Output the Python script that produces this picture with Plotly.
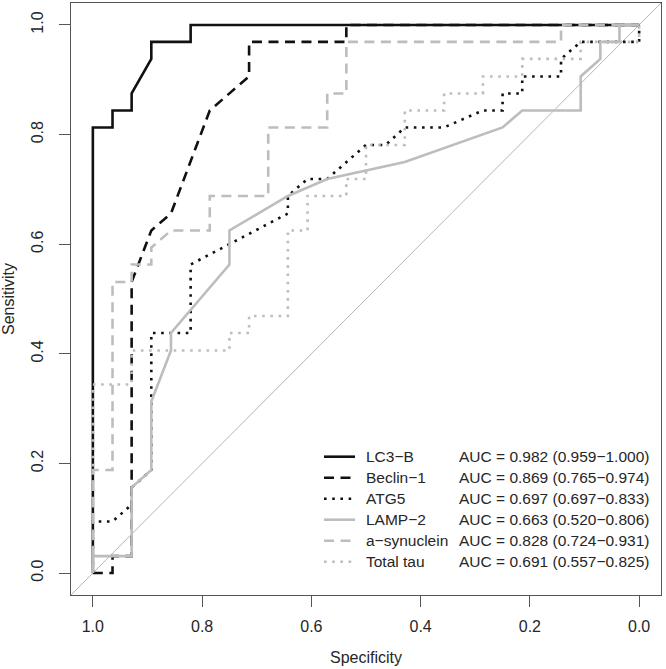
import plotly.graph_objects as go

# ---------------- data ----------------
SERIES_NAMES = ["LC3\u2212B", "Beclin\u22121", "ATG5", "LAMP\u22122", "a\u2212synuclein", "Total tau"]
AUC_LABELS = [
    "AUC = 0.982 (0.959\u22121.000)",
    "AUC = 0.869 (0.765\u22120.974)",
    "AUC = 0.697 (0.697\u22120.833)",
    "AUC = 0.663 (0.520\u22120.806)",
    "AUC = 0.828 (0.724\u22120.931)",
    "AUC = 0.691 (0.557\u22120.825)",
]

lc3b_spec = [1.000, 1.000, 0.964, 0.964, 0.929, 0.929, 0.893, 0.893, 0.821, 0.821, 0.000]
lc3b_sens = [0.000, 0.813, 0.813, 0.844, 0.844, 0.875, 0.938, 0.969, 0.969, 1.000, 1.000]

beclin_spec = [1.000, 0.964, 0.964, 0.929, 0.929, 0.893, 0.857, 0.786, 0.714, 0.714, 0.536, 0.536, 0.000]
beclin_sens = [0.000, 0.000, 0.031, 0.031, 0.531, 0.625, 0.656, 0.844, 0.906, 0.969, 0.969, 1.000, 1.000]

atg5_spec = [1.000, 1.000, 0.964, 0.929, 0.929, 0.893, 0.893, 0.821, 0.821, 0.643, 0.643, 0.607, 0.571,
             0.500, 0.464, 0.429, 0.357, 0.286, 0.250, 0.250, 0.214, 0.214, 0.143, 0.143, 0.107, 0.000, 0.000]
atg5_sens = [0.000, 0.094, 0.094, 0.125, 0.156, 0.188, 0.438, 0.438, 0.563, 0.656, 0.688, 0.719, 0.719,
             0.781, 0.781, 0.813, 0.813, 0.844, 0.844, 0.875, 0.875, 0.906, 0.906, 0.938, 0.969, 0.969, 1.000]

lamp2_spec = [1.000, 1.000, 0.929, 0.929, 0.893, 0.893, 0.857, 0.857, 0.750, 0.750, 0.643, 0.571, 0.429,
              0.250, 0.214, 0.107, 0.107, 0.071, 0.071, 0.036, 0.036, 0.000]
lamp2_sens = [0.000, 0.031, 0.031, 0.156, 0.188, 0.313, 0.406, 0.438, 0.563, 0.625, 0.688, 0.719, 0.750,
              0.813, 0.844, 0.844, 0.906, 0.938, 0.969, 0.969, 1.000, 1.000]

asyn_spec = [1.000, 1.000, 0.964, 0.964, 0.929, 0.929, 0.893, 0.893, 0.857, 0.786, 0.786, 0.679, 0.679,
             0.571, 0.571, 0.536, 0.536, 0.143, 0.143, 0.000]
asyn_sens = [0.000, 0.188, 0.188, 0.531, 0.531, 0.563, 0.563, 0.594, 0.625, 0.625, 0.688, 0.688, 0.813,
             0.813, 0.875, 0.875, 0.969, 0.969, 1.000, 1.000]

tau_spec = [1.000, 1.000, 0.929, 0.929, 0.750, 0.750, 0.714, 0.714, 0.643, 0.643, 0.607, 0.607, 0.536, 0.536,
            0.500, 0.500, 0.429, 0.429, 0.357, 0.357, 0.286, 0.286, 0.214, 0.214, 0.107, 0.107, 0.000, 0.000]
tau_sens = [0.000, 0.344, 0.344, 0.406, 0.406, 0.438, 0.438, 0.469, 0.469, 0.625, 0.625, 0.688, 0.688, 0.719,
            0.719, 0.781, 0.781, 0.844, 0.844, 0.875, 0.875, 0.906, 0.906, 0.938, 0.938, 0.969, 0.969, 1.000]

TICK_VALUES = [1.0, 0.8, 0.6, 0.4, 0.2, 0.0]
TICK_LABELS = ["1.0", "0.8", "0.6", "0.4", "0.2", "0.0"]

# ---------------- styling ----------------
W, H = 666, 669
ML, MR, MT, MB = 71, 5, 3, 74
X_RANGE = [1.04, -0.04]
Y_RANGE = [-0.04, 1.04]
FONT = "Liberation Sans, Arial, sans-serif"
TXT = "#262626"
AX = "#555555"
BLACK = "#111111"
GREY = "#bdbdbd"
DASH = "10px,6.5px"
DOT = "2.6px,5.6px"
LW = 2.6
AXIS_FS = 16
LEG_FS = 15.5

styles = [
    dict(color=BLACK, dash="solid"),
    dict(color=BLACK, dash=DASH),
    dict(color=BLACK, dash=DOT),
    dict(color=GREY, dash="solid"),
    dict(color=GREY, dash=DASH),
    dict(color=GREY, dash=DOT),
]
series = [
    (lc3b_spec, lc3b_sens),
    (beclin_spec, beclin_sens),
    (atg5_spec, atg5_sens),
    (lamp2_spec, lamp2_sens),
    (asyn_spec, asyn_sens),
    (tau_spec, tau_sens),
]

fig = go.Figure()
for name, (sx, sy), st in zip(SERIES_NAMES, series, styles):
    fig.add_trace(go.Scatter(
        x=sx, y=sy, mode="lines", name=name, showlegend=False,
        line=dict(color=st["color"], width=LW, dash=st["dash"]),
        hoverinfo="skip",
    ))

# identity (chance) line across the full axis range
fig.add_shape(type="line", xref="x", yref="y",
              x0=X_RANGE[0], y0=1 - X_RANGE[0], x1=X_RANGE[1], y1=1 - X_RANGE[1],
              line=dict(color="#b5b5b5", width=1), layer="below")

# ---------------- manual legend (R style, no box) ----------------
PW = W - ML - MR
PH = H - MT - MB


def pxx(px):
    return (px - ML) / PW


def pyy(py):
    return (H - MB - py) / PH


LEG_LINE_X0, LEG_LINE_X1 = 324, 355
LEG_NAME_X, LEG_AUC_X = 364, 457
LEG_Y0, LEG_DY = 456.7, 21.0

annotations = []
for i, (name, auc, st) in enumerate(zip(SERIES_NAMES, AUC_LABELS, styles)):
    yy = pyy(LEG_Y0 + i * LEG_DY)
    fig.add_shape(type="line", xref="paper", yref="paper",
                  x0=pxx(LEG_LINE_X0), x1=pxx(LEG_LINE_X1), y0=yy, y1=yy,
                  line=dict(color=st["color"], width=LW, dash=st["dash"]))
    annotations.append(dict(xref="paper", yref="paper", x=pxx(LEG_NAME_X), y=yy,
                            text=name, showarrow=False, xanchor="left", yanchor="middle",
                            font=dict(family=FONT, size=LEG_FS, color=TXT)))
    annotations.append(dict(xref="paper", yref="paper", x=pxx(LEG_AUC_X), y=yy,
                            text=auc, showarrow=False, xanchor="left", yanchor="middle",
                            font=dict(family=FONT, size=LEG_FS, color=TXT)))

fig.update_layout(
    width=W, height=H,
    margin=dict(l=ML, r=MR, t=MT, b=MB, pad=0, autoexpand=False),
    paper_bgcolor="white", plot_bgcolor="white",
    font=dict(family=FONT, size=AXIS_FS, color=TXT),
    annotations=annotations,
    showlegend=False,
)
fig.update_xaxes(
    automargin=False,
    range=X_RANGE, tickmode="array", tickvals=TICK_VALUES, ticktext=TICK_LABELS,
    ticks="outside", ticklen=11, tickwidth=1, tickcolor=AX,
    showline=True, linecolor=AX, linewidth=1, mirror=True,
    showgrid=False, zeroline=False, ticklabelstandoff=6,
    tickfont=dict(family=FONT, size=AXIS_FS, color=TXT),
    title=dict(text="Specificity", font=dict(family=FONT, size=AXIS_FS, color=TXT), standoff=17),
)
fig.update_yaxes(
    automargin=False,
    range=Y_RANGE, tickmode="array", tickvals=TICK_VALUES, ticktext=TICK_LABELS,
    ticks="outside", ticklen=11, tickwidth=1, tickcolor=AX,
    showline=True, linecolor=AX, linewidth=1, mirror=True,
    showgrid=False, zeroline=False, tickangle=-90, ticklabelstandoff=10,
    tickfont=dict(family=FONT, size=AXIS_FS, color=TXT),
    title=dict(text="Sensitivity", font=dict(family=FONT, size=AXIS_FS, color=TXT), standoff=14),
)

# remove the browser's default page margin so the figure sits at (0, 0); hide the mode bar
fig.write_html("out.html", config={"displayModeBar": False},
               post_script="document.body.style.margin='0px';")
